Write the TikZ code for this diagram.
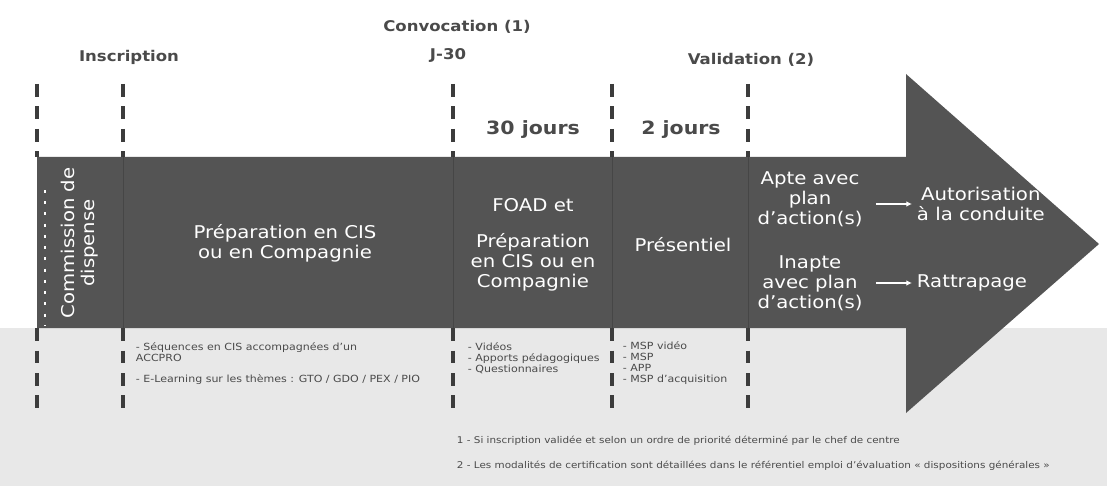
\documentclass[tikz,border=0pt]{standalone}
\usepackage{fontspec}
\setmainfont{DejaVu Sans}[FakeStretch=1.12]
\usetikzlibrary{arrows.meta}
\tikzset{>={Latex[width=4pt,length=4pt]}}
\definecolor{arrowgray}{HTML}{545454}
\definecolor{linegray}{HTML}{3C3C3C}
\definecolor{textgray}{HTML}{4A4A4A}
\definecolor{bandgray}{HTML}{E8E8E8}
\tikzset{
  steptitle/.style={font=\bfseries\fontsize{10.5}{13}\selectfont, text=textgray},
  phase/.style={font=\fontsize{12.5}{14.2}\selectfont, text=white, align=center},
  detail/.style={font=\fontsize{7}{7.8}\selectfont, text=textgray, align=left, anchor=north west},
  footnote/.style={font=\fontsize{6.6}{8}\selectfont, text=textgray, anchor=west},
  guide/.style={linegray, line width=2.2pt, dash pattern=on 9pt off 7pt},
}

\begin{document}
\begin{tikzpicture}[x=0.025cm, y=-0.025cm]

  \useasboundingbox (0,0) rectangle (1107,486);
  \fill[white] (0,0) rectangle (1107,486);
  \fill[bandgray] (0,328) rectangle (1107,486);

  % the big arrow
  \fill[arrowgray] (37,157) -- (906,157) -- (906,74) -- (1099,244)
    -- (906,413) -- (906,328) -- (37,328) -- cycle;
  \draw[white, line width=1.6pt, dash pattern=on 2pt off 6pt] (45,190) -- (45,326);

  % guide lines
  \foreach \gx/\gname in {37/a,123/b,453/c,612/d,748/e}{
    \coordinate (\gname top) at (\gx,84);
    \coordinate (\gname in) at (\gx,157);
    \coordinate (\gname out) at (\gx,328);
    \coordinate (\gname low) at (\gx,412);
    \draw[guide] (\gname top) -- (\gname in);
    \draw[guide] (\gname out) -- (\gname low);
  }
  \foreach \gname in {b,c,d,e}
    \draw[black!80, line width=0.6pt, opacity=0.4] (\gname in) -- (\gname out);

  % titles above the arrow
  \node[steptitle] (inscription) at (129,57) {Inscription};
  \node[steptitle] (convocation) at (457,27) {Convocation (1)};
  \node[steptitle] (j30) at (448,55) {J-30};
  \node[steptitle] (validation) at (751,60) {Validation (2)};
  \node[steptitle, font=\bfseries\fontsize{13}{15}\selectfont] (jours30) at (533,130) {30 jours};
  \node[steptitle, font=\bfseries\fontsize{13}{15}\selectfont] (jours2) at (681,130) {2 jours};

  % phases in the arrow
  \node[phase, rotate=90] (commission) at (80,243) {Commission de\\dispense};
  \node[phase] (prepa) at (285,243) {Préparation en CIS\\ou en Compagnie};
  \node[phase] (foad) at (533,205) {FOAD et};
  \node[phase] (prepacis) at (533,262) {Préparation\\en CIS ou en\\Compagnie};
  \node[phase] (presentiel) at (683,245) {Présentiel};
  \node[phase] (apte) at (810,199) {Apte avec\\plan\\d'action(s)};
  \node[phase] (inapte) at (810,283) {Inapte\\avec plan\\d'action(s)};
  \node[phase, anchor=west] (autorisation) at (912,204) {Autorisation\\à la conduite};
  \node[phase, anchor=west] (rattrapage) at (912,283) {Rattrapage};
  \draw[->, white, line width=0.8pt, shorten <=6pt] (apte.east |- autorisation) -- (autorisation.west);
  \draw[->, white, line width=0.8pt, shorten <=6pt] (inapte.east) -- (rattrapage.west);

  % details under the arrow
  \node[detail] (sequences) at (131,338) {- Séquences en CIS accompagnées d'un\\ACCPRO};
  \node[detail] (elearning) at (131,370) {- E-Learning sur les thèmes : GTO / GDO / PEX / PIO};
  \node[detail] (videos) at (463,338) {- Vidéos\\- Apports pédagogiques\\- Questionnaires};
  \node[detail] (msp) at (618,337) {- MSP vidéo\\- MSP\\- APP\\- MSP d'acquisition};

  % footnotes
  \node[footnote] (note1) at (452,441) {1 - Si inscription validée et selon un ordre de priorité déterminé par le chef de centre};
  \node[footnote] (note2) at (452,466) {2 - Les modalités de certification sont détaillées dans le référentiel emploi d'évaluation « dispositions générales »};

\end{tikzpicture}
\end{document}
